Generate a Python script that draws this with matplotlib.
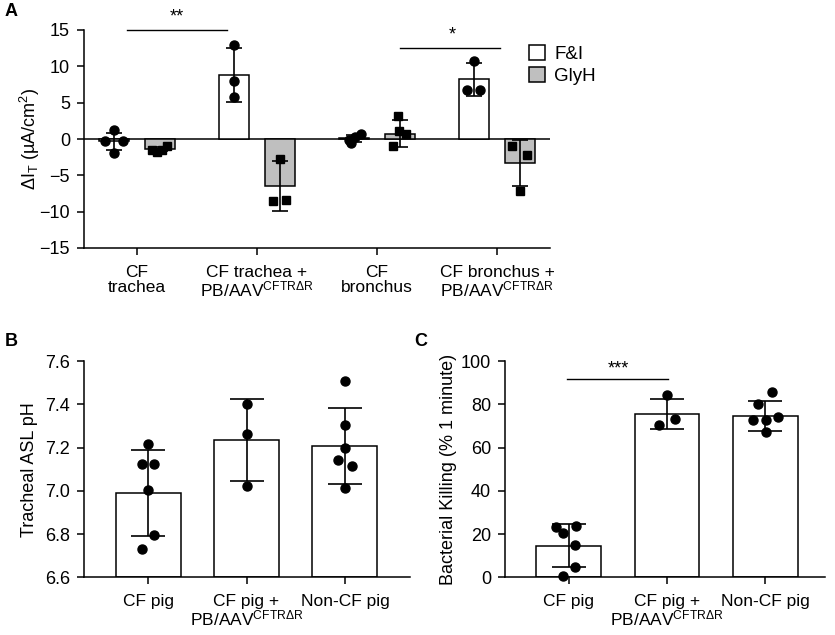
import matplotlib
matplotlib.use("Agg")
import matplotlib.pyplot as plt
from matplotlib.patches import Patch
import numpy as np

plt.rcParams['font.family'] = ['Liberation Sans', 'DejaVu Sans']
plt.rcParams['mathtext.fontset'] = 'custom'
plt.rcParams['mathtext.rm'] = 'Liberation Sans'
plt.rcParams['mathtext.it'] = 'Liberation Sans:italic'
plt.rcParams['mathtext.bf'] = 'Liberation Sans:bold'
plt.rcParams['axes.linewidth'] = 1.1

# ---------------- Data ----------------
# Panel A
a_categories = ["CF\ntrachea", "CF trachea +\nPB/AAV$^{\\mathrm{CFTRΔR}}$",
                "CF\nbronchus", "CF bronchus +\nPB/AAV$^{\\mathrm{CFTRΔR}}$"]
a_fi_mean = [-0.33, 8.85, 0.1, 8.2]
a_fi_sd = [1.2, 3.7, 0.5, 2.3]
a_glyh_mean = [-1.4, -6.45, 0.75, -3.3]
a_glyh_sd = [0.3, 3.4, 1.8, 3.2]
a_fi_points = [[1.2, -0.3, -0.3, -1.9],
               [13.0, 8.0, 5.8],
               [-0.1, -0.55, 0.3, 0.75],
               [10.7, 6.7, 6.7]]
a_glyh_points = [[-1.5, -1.8, -1.5, -1.0],
                 [-2.75, -8.55, -8.45],
                 [3.1, 1.1, 0.74, -1.0],
                 [-1.0, -2.15, -7.1]]

# Panel B
b_categories = ["CF pig", "CF pig +\nPB/AAV$^{\\mathrm{CFTRΔR}}$", "Non-CF pig"]
b_mean = [6.99, 7.235, 7.207]
b_sd = [0.2, 0.19, 0.175]
b_points = [[7.215, 7.124, 7.124, 7.004, 6.796, 6.733],
            [7.401, 7.263, 7.022],
            [7.508, 7.306, 7.2, 7.142, 7.115, 7.011]]

# Panel C
c_categories = ["CF pig", "CF pig +\nPB/AAV$^{\\mathrm{CFTRΔR}}$", "Non-CF pig"]
c_mean = [14.7, 75.6, 74.7]
c_sd = [10.0, 7.0, 7.0]
c_points = [[23.4, 20.3, 23.9, 15.0, 4.6, 0.6],
            [84.1, 70.6, 73.3],
            [85.8, 80.3, 72.7, 72.7, 74.3, 67.4]]

# ---------------- Layout / style ----------------
a_fi_jit = [[0, -0.075, 0.075, 0], [0, 0, 0], [-0.04, -0.025, 0.01, 0.06], [0, -0.065, 0.05]]
a_gl_jit = [[-0.06, -0.02, 0.02, 0.06], [0, -0.06, 0.05], [-0.015, -0.01, 0.05, -0.06], [-0.065, 0.06, 0]]
b_jit = [[0, -0.06, 0.065, 0, 0.065, -0.06], [0, 0, 0], [0, 0, 0, -0.07, 0.07, 0]]
c_jit = [[-0.13, -0.06, 0.075, 0.065, 0.065, -0.06], [0, -0.08, 0.08], [0.07, -0.07, -0.12, 0.01, 0.135, 0.01]]

GRAY = '#bfbfbf'
FS = 12.5
W, H = 835, 635
fig = plt.figure(figsize=(W / 100, H / 100), dpi=100)


def px_axes(l, r, t, b):
    return fig.add_axes([l / W, 1 - b / H, (r - l) / W, (b - t) / H])


def style_axes(ax):
    for s in ['top', 'right']:
        ax.spines[s].set_visible(False)
    ax.tick_params(axis='both', direction='out', width=1.1, length=5, color='black')
    ax.tick_params(axis='y', labelsize=FS + 0.5, pad=5)
    ax.tick_params(axis='x', labelsize=FS, pad=7)


# ---------- Panel A ----------
axA = px_axes(84, 550, 30, 248)
style_axes(axA)
xa = np.arange(len(a_categories))
off, bw = 0.19, 0.25
axA.bar(xa - off, a_fi_mean, bw, color='white', edgecolor='black', linewidth=1.1, zorder=2)
axA.bar(xa + off, a_glyh_mean, bw, color=GRAY, edgecolor='black', linewidth=1.1, zorder=2)
for i in range(len(xa)):
    axA.errorbar(xa[i] - off, a_fi_mean[i], yerr=a_fi_sd[i], fmt='none', ecolor='black',
                 elinewidth=1.2, capsize=6, capthick=1.2, zorder=3)
    axA.errorbar(xa[i] + off, a_glyh_mean[i], yerr=a_glyh_sd[i], fmt='none', ecolor='black',
                 elinewidth=1.2, capsize=6, capthick=1.2, zorder=3)
    axA.plot(xa[i] - off + np.array(a_fi_jit[i]), a_fi_points[i], 'o', color='black',
             markersize=6.5, zorder=4, clip_on=False)
    axA.plot(xa[i] + off + np.array(a_gl_jit[i]), a_glyh_points[i], 's', color='black',
             markersize=6, zorder=4, clip_on=False)
axA.axhline(0, color='black', linewidth=1.1, zorder=1)
axA.set_xlim(-0.44, 3.44)
axA.set_ylim(-15, 15)
axA.set_yticks([-15, -10, -5, 0, 5, 10, 15])
axA.set_yticklabels(['\u221215', '\u221210', '\u22125', '0', '5', '10', '15'])
axA.set_xticks(xa)
axA.set_xticklabels(a_categories, fontsize=FS, linespacing=1.0)
axA.set_ylabel('$\\Delta$I$_{\\mathrm{T}}$ (µA/cm$^2$)', fontsize=FS + 0.5)
axA.yaxis.set_label_coords(-0.09, 0.5)
# significance
axA.plot([-0.083, 0.75], [15, 15], color='black', linewidth=1.0, clip_on=False)
axA.text(0.33, 15.6, '**', ha='center', va='bottom', fontsize=FS + 0.5)
axA.plot([2.19, 3.025], [12.5, 12.5], color='black', linewidth=1.0, clip_on=False)
axA.text(2.63, 13.1, '*', ha='center', va='bottom', fontsize=FS + 0.5)
leg = axA.legend(handles=[Patch(facecolor='white', edgecolor='black', linewidth=1.1, label='F&I'),
                          Patch(facecolor=GRAY, edgecolor='black', linewidth=1.1, label='GlyH')],
                 loc='upper left', bbox_to_anchor=(0.955, 0.93), frameon=False, fontsize=FS + 1,
                 handlelength=0.85, handleheight=0.85, handletextpad=0.5, labelspacing=0.2,
                 borderpad=0, borderaxespad=0)

# ---------- Panel B ----------
axB = px_axes(84, 410, 361, 577.3)
style_axes(axB)
xb = np.arange(len(b_categories))
axB.bar(xb, np.array(b_mean) - 6.6, 0.66, bottom=6.6, color='white', edgecolor='black',
        linewidth=1.1, zorder=2)
for i in range(len(xb)):
    axB.errorbar(xb[i], b_mean[i], yerr=b_sd[i], fmt='none', ecolor='black', elinewidth=1.2,
                 capsize=12, capthick=1.2, zorder=3)
    axB.plot(xb[i] + np.array(b_jit[i]), b_points[i], 'o', color='black', markersize=6.5,
             zorder=4, clip_on=False)
axB.set_xlim(-0.65, 2.66)
axB.set_ylim(6.6, 7.6)
axB.set_yticks([6.6, 6.8, 7.0, 7.2, 7.4, 7.6])
axB.set_yticklabels(['6.6', '6.8', '7.0', '7.2', '7.4', '7.6'])
axB.set_xticks(xb)
axB.set_xticklabels(b_categories, fontsize=FS, linespacing=1.0)
axB.set_ylabel('Tracheal ASL pH', fontsize=FS + 0.5)
axB.yaxis.set_label_coords(-0.14, 0.5)

# ---------- Panel C ----------
axC = px_axes(505, 825, 361, 577.3)
style_axes(axC)
xc = np.arange(len(c_categories))
axC.bar(xc, c_mean, 0.66, color='white', edgecolor='black', linewidth=1.1, zorder=2)
for i in range(len(xc)):
    axC.errorbar(xc[i], c_mean[i], yerr=c_sd[i], fmt='none', ecolor='black', elinewidth=1.2,
                 capsize=12, capthick=1.2, zorder=3)
    axC.plot(xc[i] + np.array(c_jit[i]), c_points[i], 'o', color='black', markersize=6.5,
             zorder=4, clip_on=False)
axC.set_xlim(-0.65, 2.61)
axC.set_ylim(0, 100)
axC.set_yticks([0, 20, 40, 60, 80, 100])
axC.set_xticks(xc)
axC.set_xticklabels(c_categories, fontsize=FS, linespacing=1.0)
axC.set_ylabel('Bacterial Killing (% 1 minute)', fontsize=FS + 0.5)
axC.yaxis.set_label_coords(-0.15, 0.5)
axC.plot([-0.02, 1.01], [91.7, 91.7], color='black', linewidth=1.0, clip_on=False)
axC.text(0.5, 92.6, '***', ha='center', va='bottom', fontsize=FS + 0.5)

# panel letters
fig.text(5 / W, 1 - 12 / H, 'A', fontsize=13, fontweight='bold', ha='left', va='center')
fig.text(5 / W, 1 - 342 / H, 'B', fontsize=13, fontweight='bold', ha='left', va='center')
fig.text(414 / W, 1 - 342 / H, 'C', fontsize=13, fontweight='bold', ha='left', va='center')

fig.savefig('out.png', dpi=100)
